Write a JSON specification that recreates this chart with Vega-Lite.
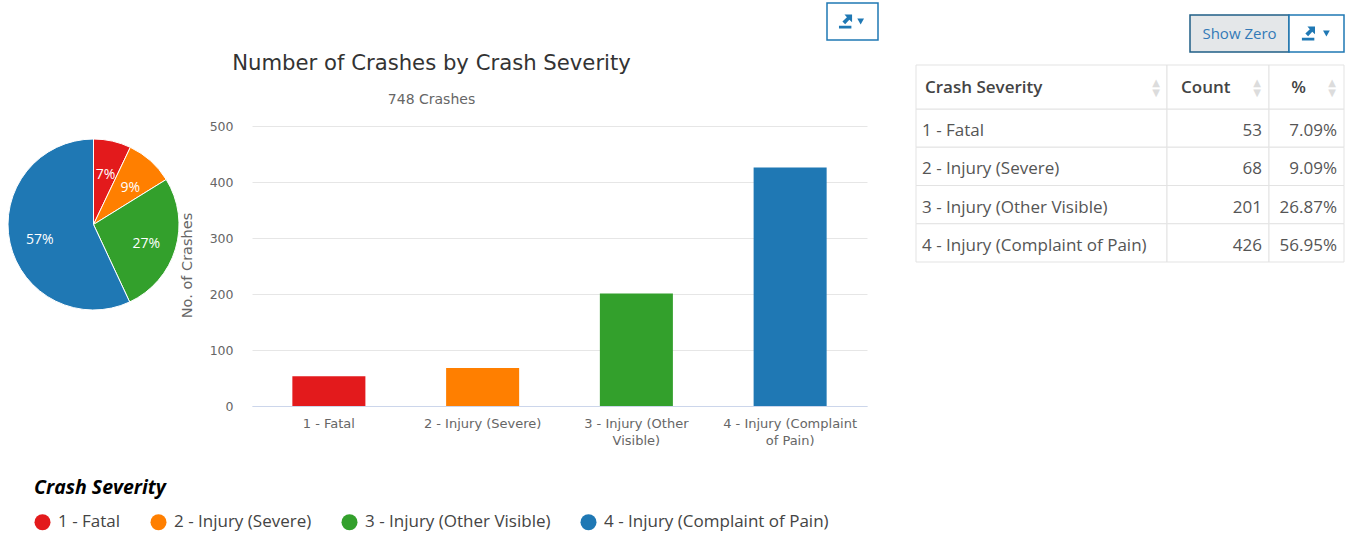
{
  "$schema": "https://vega.github.io/schema/vega-lite/v6.json",
  "background": "white",
  "padding": 0,
  "bounds": "flush",
  "spacing": 65,
  "datasets": {
    "severity": [
      {"severity": "1 - Fatal", "count": 53, "share": "7.09%", "rounded": "7%"},
      {"severity": "2 - Injury (Severe)", "count": 68, "share": "9.09%", "rounded": "9%"},
      {"severity": "3 - Injury (Other Visible)", "count": 201, "share": "26.87%", "rounded": "27%"},
      {"severity": "4 - Injury (Complaint of Pain)", "count": 426, "share": "56.95%", "rounded": "57%"}
    ]
  },
  "resolve": {"legend": {"color": "independent"}, "scale": {"color": "shared"}},
  "hconcat": [
    {
      "width": 187,
      "height": 449,
      "view": {"stroke": null},
      "data": {"name": "severity"},
      "encoding": {
        "theta": {"field": "count", "type": "quantitative", "stack": true},
        "order": {"field": "severity", "type": "ordinal"}
      },
      "layer": [
        {
          "mark": {"type": "arc", "outerRadius": 85.5, "stroke": "white", "strokeWidth": 1},
          "encoding": {
            "color": {
              "field": "severity",
              "type": "nominal",
              "legend": null,
              "scale": {
                "domain": ["1 - Fatal", "2 - Injury (Severe)", "3 - Injury (Other Visible)", "4 - Injury (Complaint of Pain)"],
                "range": ["#E31A1C", "#FF7F00", "#33A02C", "#1F78B4"]
              }
            }
          }
        },
        {
          "mark": {"type": "text", "radius": 55, "dy": 4, "color": "white", "font": "Open Sans", "fontSize": 14},
          "encoding": {
            "detail": {"field": "severity", "type": "nominal"},
            "text": {"field": "rounded"}
          }
        }
      ]
    },
    {
      "width": 615,
      "height": 406,
      "view": {"stroke": null},
      "data": {"name": "severity"},
      "title": {
        "text": "Number of Crashes by Crash Severity",
        "subtitle": "748 Crashes",
        "anchor": "middle",
        "frame": "group",
        "offset": -107,
        "dx": -128,
        "font": "DejaVu Sans",
        "fontSize": 21.2,
        "fontWeight": "normal",
        "color": "#333333",
        "subtitleFont": "DejaVu Sans",
        "subtitleFontSize": 14,
        "subtitleColor": "#666666",
        "subtitlePadding": 19
      },
      "mark": {"type": "bar"},
      "encoding": {
        "x": {
          "field": "severity",
          "type": "nominal",
          "title": null,
          "scale": {"type": "band", "paddingInner": 0.525, "paddingOuter": 0.2625},
          "axis": {
            "labelAngle": 0,
            "ticks": false,
            "domainColor": "#ccd6eb",
            "labelFont": "DejaVu Sans",
            "labelFontSize": 13,
            "labelColor": "#666666",
            "labelPadding": 11,
            "labelLimit": 200,
            "labelLineHeight": 17,
            "labelExpr": "datum.value == '3 - Injury (Other Visible)' ? ['3 - Injury (Other', 'Visible)'] : datum.value == '4 - Injury (Complaint of Pain)' ? ['4 - Injury (Complaint', 'of Pain)'] : datum.value"
          }
        },
        "y": {
          "field": "count",
          "type": "quantitative",
          "title": "No. of Crashes",
          "scale": {"domain": [0, 500], "range": [406, 126]},
          "axis": {
            "values": [0, 100, 200, 300, 400, 500],
            "domain": false,
            "ticks": false,
            "gridColor": "#e6e6e6",
            "labelFont": "DejaVu Sans",
            "labelFontSize": 12.5,
            "labelColor": "#666666",
            "labelPadding": 19,
            "titleFont": "DejaVu Sans",
            "titleFontSize": 14.5,
            "titleFontWeight": "normal",
            "titleColor": "#666666",
            "titleX": -58,
            "titleY": 265
          }
        },
        "color": {
          "field": "severity",
          "type": "nominal",
          "legend": {
            "orient": "none",
            "legendX": -218,
            "legendY": 479,
            "direction": "horizontal",
            "columns": 4,
            "columnPadding": 29,
            "gridAlign": "each",
            "title": "Crash Severity",
            "titleFont": "Open Sans",
            "titleFontSize": 19.5,
            "titleFontStyle": "italic",
            "titleFontWeight": "bold",
            "titleColor": "#000000",
            "titlePadding": 15,
            "labelFont": "Open Sans",
            "labelFontSize": 17,
            "labelColor": "#444444",
            "labelLimit": 300,
            "labelOffset": 7,
            "symbolType": "circle",
            "symbolSize": 256,
            "symbolStrokeWidth": 0
          }
        }
      }
    },
    {
      "width": 412,
      "height": 262,
      "view": {"stroke": null},
      "resolve": {"scale": {"x": "independent", "y": "independent"}},
      "layer": [
        {
          "data": {"name": "severity"},
          "encoding": {
            "x": {"datum": "Crash Severity", "type": "nominal", "axis": null, "scale": {"type": "band", "paddingInner": 0, "paddingOuter": 0, "range": [-16, 235]}},
            "y": {"field": "severity", "type": "nominal", "axis": null, "scale": {"type": "band", "paddingInner": 0, "paddingOuter": 0, "range": [109, 262]}}
          },
          "layer": [
            {"mark": {"type": "rect", "fill": "white", "stroke": "#e3e3e3"}},
            {
              "mark": {"type": "text", "align": "left", "dx": 6, "dy": 3, "font": "Open Sans", "fontSize": 17, "color": "#555555"},
              "encoding": {
                "x": {"datum": "Crash Severity", "type": "nominal", "axis": null, "bandPosition": 0},
                "text": {"field": "severity"}
              }
            }
          ]
        },
        {
          "data": {"name": "severity"},
          "encoding": {
            "x": {"datum": "Count", "type": "nominal", "axis": null, "scale": {"type": "band", "paddingInner": 0, "paddingOuter": 0, "range": [235, 337]}},
            "y": {"field": "severity", "type": "nominal", "axis": null, "scale": {"type": "band", "paddingInner": 0, "paddingOuter": 0, "range": [109, 262]}}
          },
          "layer": [
            {"mark": {"type": "rect", "fill": "white", "stroke": "#e3e3e3"}},
            {
              "mark": {"type": "text", "align": "right", "dx": -7, "dy": 3, "font": "Open Sans", "fontSize": 17, "color": "#555555"},
              "encoding": {
                "x": {"datum": "Count", "type": "nominal", "axis": null, "bandPosition": 1},
                "text": {"field": "count", "type": "quantitative"}
              }
            }
          ]
        },
        {
          "data": {"name": "severity"},
          "encoding": {
            "x": {"datum": "%", "type": "nominal", "axis": null, "scale": {"type": "band", "paddingInner": 0, "paddingOuter": 0, "range": [337, 412]}},
            "y": {"field": "severity", "type": "nominal", "axis": null, "scale": {"type": "band", "paddingInner": 0, "paddingOuter": 0, "range": [109, 262]}}
          },
          "layer": [
            {"mark": {"type": "rect", "fill": "white", "stroke": "#e3e3e3"}},
            {
              "mark": {"type": "text", "align": "right", "dx": -7, "dy": 3, "font": "Open Sans", "fontSize": 17, "color": "#555555"},
              "encoding": {
                "x": {"datum": "%", "type": "nominal", "axis": null, "bandPosition": 1},
                "text": {"field": "share"}
              }
            }
          ]
        },
        {
          "data": {"values": [{"heading": "Crash Severity"}]},
          "encoding": {
            "x": {"field": "heading", "type": "nominal", "axis": null, "scale": {"type": "band", "paddingInner": 0, "paddingOuter": 0, "range": [-16, 235]}},
            "y": {"datum": "header", "type": "nominal", "axis": null, "scale": {"type": "band", "paddingInner": 0, "paddingOuter": 0, "range": [65, 109]}}
          },
          "layer": [
            {"mark": {"type": "rect", "fill": "white", "stroke": "#e3e3e3"}},
            {
              "mark": {"type": "text", "align": "left", "dx": 9, "dy": 1, "font": "Open Sans", "fontSize": 17, "fontWeight": 600, "color": "#444444"},
              "encoding": {
                "x": {"field": "heading", "type": "nominal", "axis": null, "bandPosition": 0},
                "text": {"field": "heading"}
              }
            },
            {
              "mark": {"type": "text", "text": ["▲", "▼"], "lineHeight": 10, "dx": -11, "dy": -4, "font": "DejaVu Sans", "fontSize": 10, "color": "#dcdcdc"},
              "encoding": {"x": {"field": "heading", "type": "nominal", "axis": null, "bandPosition": 1}}
            }
          ]
        },
        {
          "data": {"values": [{"heading": "Count"}]},
          "encoding": {
            "x": {"field": "heading", "type": "nominal", "axis": null, "scale": {"type": "band", "paddingInner": 0, "paddingOuter": 0, "range": [235, 337]}},
            "y": {"datum": "header", "type": "nominal", "axis": null, "scale": {"type": "band", "paddingInner": 0, "paddingOuter": 0, "range": [65, 109]}}
          },
          "layer": [
            {"mark": {"type": "rect", "fill": "white", "stroke": "#e3e3e3"}},
            {
              "mark": {"type": "text", "align": "left", "dx": 14, "dy": 1, "font": "Open Sans", "fontSize": 17, "fontWeight": 600, "color": "#444444"},
              "encoding": {
                "x": {"field": "heading", "type": "nominal", "axis": null, "bandPosition": 0},
                "text": {"field": "heading"}
              }
            },
            {
              "mark": {"type": "text", "text": ["▲", "▼"], "lineHeight": 10, "dx": -12, "dy": -4, "font": "DejaVu Sans", "fontSize": 10, "color": "#dcdcdc"},
              "encoding": {"x": {"field": "heading", "type": "nominal", "axis": null, "bandPosition": 1}}
            }
          ]
        },
        {
          "data": {"values": [{"heading": "%"}]},
          "encoding": {
            "x": {"field": "heading", "type": "nominal", "axis": null, "scale": {"type": "band", "paddingInner": 0, "paddingOuter": 0, "range": [337, 412]}},
            "y": {"datum": "header", "type": "nominal", "axis": null, "scale": {"type": "band", "paddingInner": 0, "paddingOuter": 0, "range": [65, 109]}}
          },
          "layer": [
            {"mark": {"type": "rect", "fill": "white", "stroke": "#e3e3e3"}},
            {
              "mark": {"type": "text", "dx": -8, "dy": 1, "font": "Open Sans", "fontSize": 17, "fontWeight": 600, "color": "#444444"},
              "encoding": {"text": {"field": "heading"}}
            },
            {
              "mark": {"type": "text", "text": ["▲", "▼"], "lineHeight": 10, "dx": -12, "dy": -4, "font": "DejaVu Sans", "fontSize": 10, "color": "#dcdcdc"},
              "encoding": {"x": {"field": "heading", "type": "nominal", "axis": null, "bandPosition": 1}}
            }
          ]
        },
        {
          "data": {"values": [{"button": "Show Zero"}]},
          "encoding": {
            "x": {"field": "button", "type": "nominal", "axis": null, "scale": {"type": "band", "paddingInner": 0, "paddingOuter": 0, "range": [258, 357]}},
            "y": {"field": "button", "type": "nominal", "axis": null, "scale": {"type": "band", "paddingInner": 0, "paddingOuter": 0, "range": [15, 52]}}
          },
          "layer": [
            {"mark": {"type": "rect", "fill": "#e4e7e9", "stroke": "#1f5f86", "strokeWidth": 1.5}},
            {
              "mark": {"type": "text", "font": "Open Sans", "fontSize": 15, "color": "#337ab7"},
              "encoding": {"text": {"field": "button"}}
            }
          ]
        },
        {
          "data": {"values": [{"button": "table export"}]},
          "encoding": {
            "x": {"field": "button", "type": "nominal", "axis": null, "scale": {"type": "band", "paddingInner": 0, "paddingOuter": 0, "range": [357, 412]}},
            "y": {"field": "button", "type": "nominal", "axis": null, "scale": {"type": "band", "paddingInner": 0, "paddingOuter": 0, "range": [15, 52]}}
          },
          "layer": [
            {"mark": {"type": "rect", "fill": "white", "stroke": "#1f78b4", "strokeWidth": 1.5}},
            {
              "mark": {
                "type": "point",
                "filled": true,
                "size": 190,
                "opacity": 1,
                "color": "#1f78b4",
                "shape": "M-0.2,-1 L0.9,-1 L0.9,0.1 L0.5,-0.25 L-0.1,0.4 L-0.5,0 L0.15,-0.6 Z M-1,0.6 H0.8 V1 H-1 Z"
              },
              "encoding": {"x": {"field": "button", "type": "nominal", "axis": null, "bandPosition": 0.36}}
            },
            {
              "mark": {"type": "point", "filled": true, "shape": "triangle-down", "size": 45, "opacity": 1, "color": "#1f78b4"},
              "encoding": {"x": {"field": "button", "type": "nominal", "axis": null, "bandPosition": 0.68}}
            }
          ]
        },
        {
          "data": {"values": [{"button": "chart export"}]},
          "encoding": {
            "x": {"field": "button", "type": "nominal", "axis": null, "scale": {"type": "band", "paddingInner": 0, "paddingOuter": 0, "range": [-105, -54]}},
            "y": {"field": "button", "type": "nominal", "axis": null, "scale": {"type": "band", "paddingInner": 0, "paddingOuter": 0, "range": [3, 40]}}
          },
          "layer": [
            {"mark": {"type": "rect", "fill": "white", "stroke": "#1f78b4", "strokeWidth": 1.5}},
            {
              "mark": {
                "type": "point",
                "filled": true,
                "size": 190,
                "opacity": 1,
                "color": "#1f78b4",
                "shape": "M-0.2,-1 L0.9,-1 L0.9,0.1 L0.5,-0.25 L-0.1,0.4 L-0.5,0 L0.15,-0.6 Z M-1,0.6 H0.8 V1 H-1 Z"
              },
              "encoding": {"x": {"field": "button", "type": "nominal", "axis": null, "bandPosition": 0.37}}
            },
            {
              "mark": {"type": "point", "filled": true, "shape": "triangle-down", "size": 45, "opacity": 1, "color": "#1f78b4"},
              "encoding": {"x": {"field": "button", "type": "nominal", "axis": null, "bandPosition": 0.66}}
            }
          ]
        }
      ]
    }
  ]
}
